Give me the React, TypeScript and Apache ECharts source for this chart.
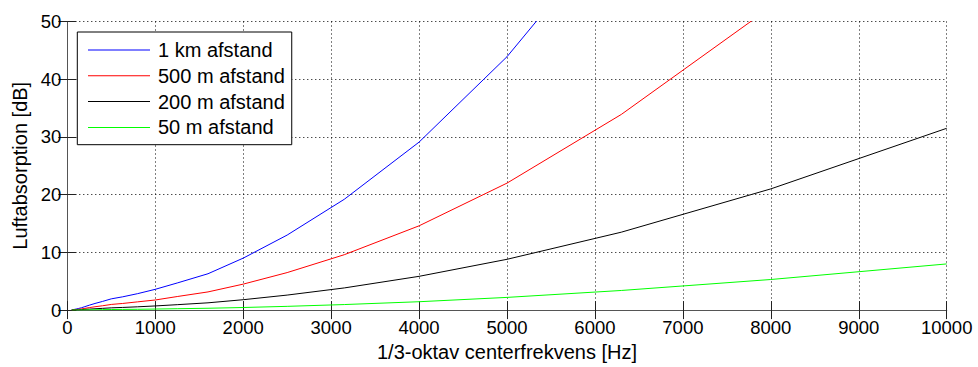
import React, { useEffect, useRef } from "react";
import * as echarts from "echarts";

// 1/3-octave centre frequencies [Hz]
const frequencies = [
  50, 63, 80, 100, 125, 160, 200, 250, 315, 400, 500, 630, 800, 1000, 1250,
  1600, 2000, 2500, 3150, 4000, 5000, 6300, 8000, 10000,
];

// Air absorption [dB] over each distance
const absorption1km = [
  0.05, 0.08, 0.12, 0.18, 0.27, 0.4, 0.6, 0.85, 1.15, 1.5, 1.95, 2.3, 2.85,
  3.6, 4.7, 6.3, 9.0, 13.0, 19.2, 29.1, 43.9, 67.8, 105, 158,
];
const absorption500m = [
  0.03, 0.04, 0.06, 0.09, 0.14, 0.2, 0.3, 0.43, 0.58, 0.75, 0.98, 1.15, 1.43,
  1.75, 2.35, 3.15, 4.5, 6.5, 9.6, 14.6, 22.0, 33.9, 52.5, 79,
];
const absorption200m = [
  0.01, 0.016, 0.024, 0.036, 0.054, 0.08, 0.12, 0.17, 0.23, 0.3, 0.39, 0.46,
  0.57, 0.72, 0.94, 1.26, 1.8, 2.6, 3.84, 5.85, 8.8, 13.5, 21.0, 31.5,
];
const absorption50m = [
  0.003, 0.004, 0.006, 0.009, 0.014, 0.02, 0.03, 0.04, 0.06, 0.08, 0.1, 0.12,
  0.14, 0.18, 0.24, 0.32, 0.45, 0.65, 0.96, 1.45, 2.2, 3.4, 5.3, 8.0,
];

const seriesNames = ["1 km afstand", "500 m afstand", "200 m afstand", "50 m afstand"];
const seriesColors = ["#0000ff", "#ff0000", "#000000", "#00ff00"];
const seriesValues = [absorption1km, absorption500m, absorption200m, absorption50m];

const FONT = "'Liberation Sans', Arial, Helvetica, sans-serif";
const AXIS_COLOR = "#555555";

export default function App() {
  const ref = useRef<HTMLDivElement>(null);

  useEffect(() => {
    if (!ref.current) return;
    const chart = echarts.init(ref.current, null, { renderer: "svg" });

    const ticks = {
      show: true,
      inside: true,
      length: 9,
      lineStyle: { color: "#222222", width: 1 },
    };
    const grid = {
      show: true,
      lineStyle: { color: "#000000", width: 1, type: [1, 3] as number[] },
    };
    const plain = (v: number) => String(v);

    chart.setOption({
      animation: false,
      backgroundColor: "#ffffff",
      textStyle: { fontFamily: FONT },
      grid: { left: 67.3, right: 31.3, top: 21.5, bottom: 54.3, containLabel: false },
      legend: {
        orient: "vertical",
        left: 77.3,
        top: 32,
        padding: [8, 7, 7.3, 10.7],
        itemGap: 5.8,
        itemWidth: 62,
        itemHeight: 1,
        icon: "rect",
        backgroundColor: "#ffffff",
        borderColor: "#000000",
        borderWidth: 1,
        borderRadius: 0,
        textStyle: { fontFamily: FONT, fontSize: 20, color: "#000000", padding: [0, 0, 0, 3] },
        data: seriesNames,
      },
      xAxis: [
        {
          type: "value",
          min: 0,
          max: 10000,
          interval: 1000,
          name: "1/3-oktav centerfrekvens [Hz]",
          nameLocation: "middle",
          nameGap: 31,
          nameTextStyle: { fontFamily: FONT, fontSize: 20, color: "#000000" },
          axisLine: { show: true, lineStyle: { color: AXIS_COLOR, width: 1 } },
          axisTick: ticks,
          axisLabel: { fontFamily: FONT, fontSize: 18.5, color: "#000000", margin: 8, formatter: plain },
          splitLine: grid,
        },
        {
          type: "value",
          position: "top",
          min: 0,
          max: 10000,
          interval: 1000,
          axisLine: { show: true, lineStyle: { color: AXIS_COLOR, width: 1 } },
          axisTick: ticks,
          axisLabel: { show: false },
          splitLine: { show: false },
        },
      ],
      yAxis: [
        {
          type: "value",
          min: 0,
          max: 50,
          interval: 10,
          name: "Luftabsorption [dB]",
          nameLocation: "middle",
          nameGap: 36,
          nameTextStyle: { fontFamily: FONT, fontSize: 20, color: "#000000" },
          axisLine: { show: true, lineStyle: { color: AXIS_COLOR, width: 1 } },
          axisTick: ticks,
          axisLabel: { fontFamily: FONT, fontSize: 18.5, color: "#000000", margin: 6, formatter: plain },
          splitLine: grid,
        },
        {
          type: "value",
          position: "right",
          min: 0,
          max: 50,
          interval: 10,
          axisLine: { show: true, lineStyle: { color: AXIS_COLOR, width: 1 } },
          axisTick: ticks,
          axisLabel: { show: false },
          splitLine: { show: false },
        },
      ],
      series: seriesNames.map((name, i) => ({
        name,
        type: "line",
        xAxisIndex: 0,
        yAxisIndex: 0,
        symbol: "none",
        clip: true,
        lineStyle: { color: seriesColors[i], width: 1 },
        itemStyle: { color: seriesColors[i] },
        data: frequencies.map((f, j) => [f, seriesValues[i][j]]),
      })),
    });

    return () => chart.dispose();
  }, []);

  return (
    <div
      ref={ref}
      style={{ position: "fixed", left: 0, top: 0, width: 978, height: 367 }}
    />
  );
}
